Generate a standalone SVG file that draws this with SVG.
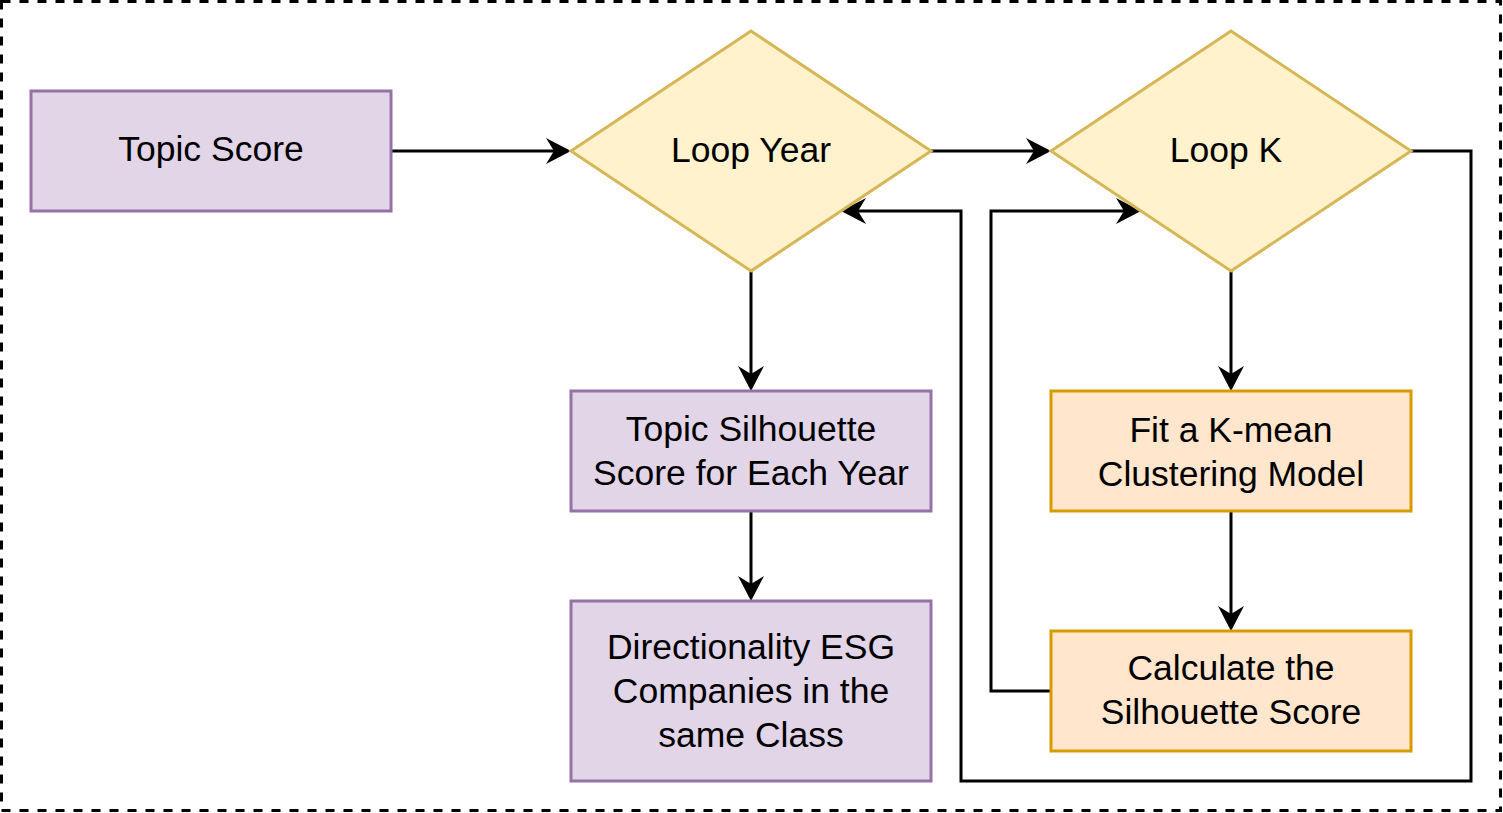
<svg xmlns="http://www.w3.org/2000/svg" width="1503" height="813" viewBox="0 0 1503 813">
  <style>
    .purple { fill: #e1d5e7; stroke: #9673a6; stroke-width: 3; }
    .yellow { fill: #fff2cc; stroke: #d6b656; stroke-width: 3; }
    .orange { fill: #ffe6cc; stroke: #d79b00; stroke-width: 3; }
    .lbl { font-family: "Liberation Sans", Arial, sans-serif; font-size: 35.5px; fill: #000000; text-anchor: middle; }
    .conn { fill: none; stroke: #000000; stroke-width: 3; }
  </style>
  <defs>
    <marker id="arrow" markerUnits="userSpaceOnUse" markerWidth="40" markerHeight="40" refX="0" refY="0" orient="auto" overflow="visible" viewBox="-20 -20 40 40">
      <path d="M15,0 L-10,-13 L-2,0 L-10,13 Z" fill="#000000" stroke="none"/>
    </marker>
  </defs>
  <rect x="1.5" y="1.5" width="1499" height="809" fill="#ffffff" stroke="#000000" stroke-width="3" stroke-dasharray="9 9"/>

  <g id="connectors">
    <path class="conn" d="M391,151 H556" marker-end="url(#arrow)"/>
    <path class="conn" d="M931,151 H1036" marker-end="url(#arrow)"/>
    <path class="conn" d="M751,271 V376" marker-end="url(#arrow)"/>
    <path class="conn" d="M751,511 V586" marker-end="url(#arrow)"/>
    <path class="conn" d="M1231,271 V376" marker-end="url(#arrow)"/>
    <path class="conn" d="M1231,511 V616" marker-end="url(#arrow)"/>
    <path class="conn" d="M1051,691 H991 V211 H1126" marker-end="url(#arrow)"/>
    <path class="conn" d="M1411,151 H1471 V781 H961 V211 H856" marker-end="url(#arrow)"/>
  </g>

  <g id="topic-score">
    <rect class="purple" x="31" y="91" width="360" height="120"/>
    <text class="lbl" x="211" y="161">Topic Score</text>
  </g>
  <g id="loop-year">
    <polygon class="yellow" points="571,151 751,31 931,151 751,271"/>
    <text class="lbl" x="751" y="162">Loop Year</text>
  </g>
  <g id="loop-k">
    <polygon class="yellow" points="1051,151 1231,31 1411,151 1231,271"/>
    <text class="lbl" x="1226" y="162">Loop K</text>
  </g>
  <g id="topic-silhouette">
    <rect class="purple" x="571" y="391" width="360" height="120"/>
    <text class="lbl" x="751" y="441">Topic Silhouette</text>
    <text class="lbl" x="751" y="485">Score for Each Year</text>
  </g>
  <g id="directionality">
    <rect class="purple" x="571" y="601" width="360" height="180"/>
    <text class="lbl" x="751" y="659">Directionality ESG</text>
    <text class="lbl" x="751" y="703">Companies in the</text>
    <text class="lbl" x="751" y="747">same Class</text>
  </g>
  <g id="fit-kmean">
    <rect class="orange" x="1051" y="391" width="360" height="120"/>
    <text class="lbl" x="1231" y="442">Fit a K-mean</text>
    <text class="lbl" x="1231" y="486">Clustering Model</text>
  </g>
  <g id="calc-silhouette">
    <rect class="orange" x="1051" y="631" width="360" height="120"/>
    <text class="lbl" x="1231" y="680">Calculate the</text>
    <text class="lbl" x="1231" y="724">Silhouette Score</text>
  </g>
</svg>
